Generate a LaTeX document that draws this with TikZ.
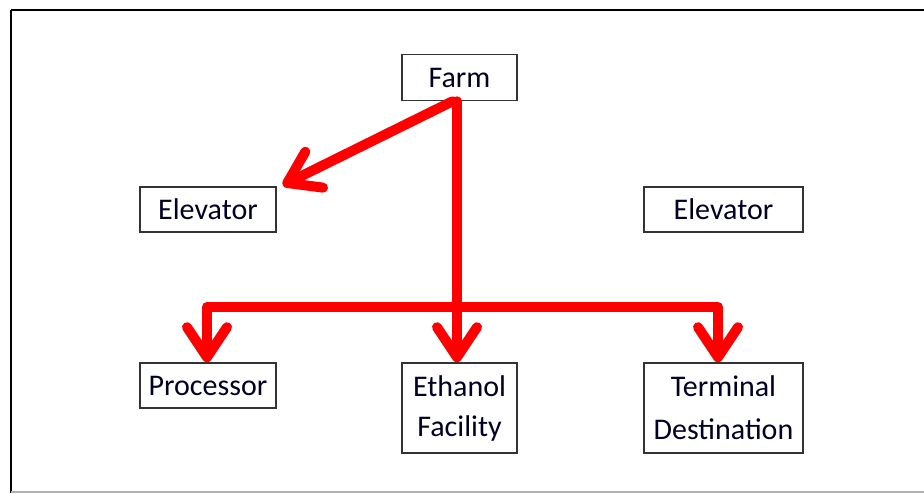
\documentclass[tikz,border=0pt]{standalone}
\usepackage{fontspec}
\setmainfont{Carlito}
\usetikzlibrary{arrows.meta}
\begin{document}
\begin{tikzpicture}[x=1pt,y=-1pt,
  box/.style={draw=black!80,line width=1.6pt,fill=white,inner sep=0pt,
    font=\fontsize{30}{43}\selectfont,text=black!85!blue,align=center},
  flow/.style={draw=red,line width=10pt,line join=round,line cap=round},
  tip/.style={-{Straight Barb[round,length=30pt,width=40pt]}}]
\useasboundingbox (0,0) rectangle (924,493);
\fill[white] (0,0) rectangle (924,493);
% frame
\draw[black,line width=2pt] (11,10) -- (924,10);
\draw[black,line width=2.5pt] (11,10) -- (11,493);
\draw[black!30,line width=1.5pt] (11,492) -- (924,492);
% nodes
\node[box,minimum width=115pt,minimum height=46pt] (farm) at (459.5,77.5) {Farm};
\node[box,minimum width=136pt,minimum height=45pt] (elevL) at (208,209.5) {Elevator};
\node[box,minimum width=159pt,minimum height=45pt] (elevR) at (723.5,209.5) {Elevator};
\node[box,minimum width=136pt,minimum height=45pt] (proc) at (208,385.5) {Processor};
\node[box,minimum width=115pt,minimum height=90pt] (eth) at (459.5,408) {\raisebox{-3pt}{Ethanol}\\Facility};
\node[box,minimum width=159pt,minimum height=90pt] (term) at (723.5,408) {Terminal\\Destination};
% connectors
\coordinate (bar) at (0,307);
\draw[flow,tip] ([xshift=-2.5pt]farm.south) -- ([xshift=-2.5pt]eth.north);
\draw[flow,tip] ([xshift=-7pt]farm.south) -- ([xshift=6pt,yshift=1pt]elevL.north east);
\draw[flow,tip] ([xshift=-2.5pt]farm.south |- bar) -| ([xshift=-1pt]proc.north);
\draw[flow,tip] ([xshift=-2.5pt]farm.south |- bar) -| ([xshift=-5.5pt]term.north);
\end{tikzpicture}
\end{document}
